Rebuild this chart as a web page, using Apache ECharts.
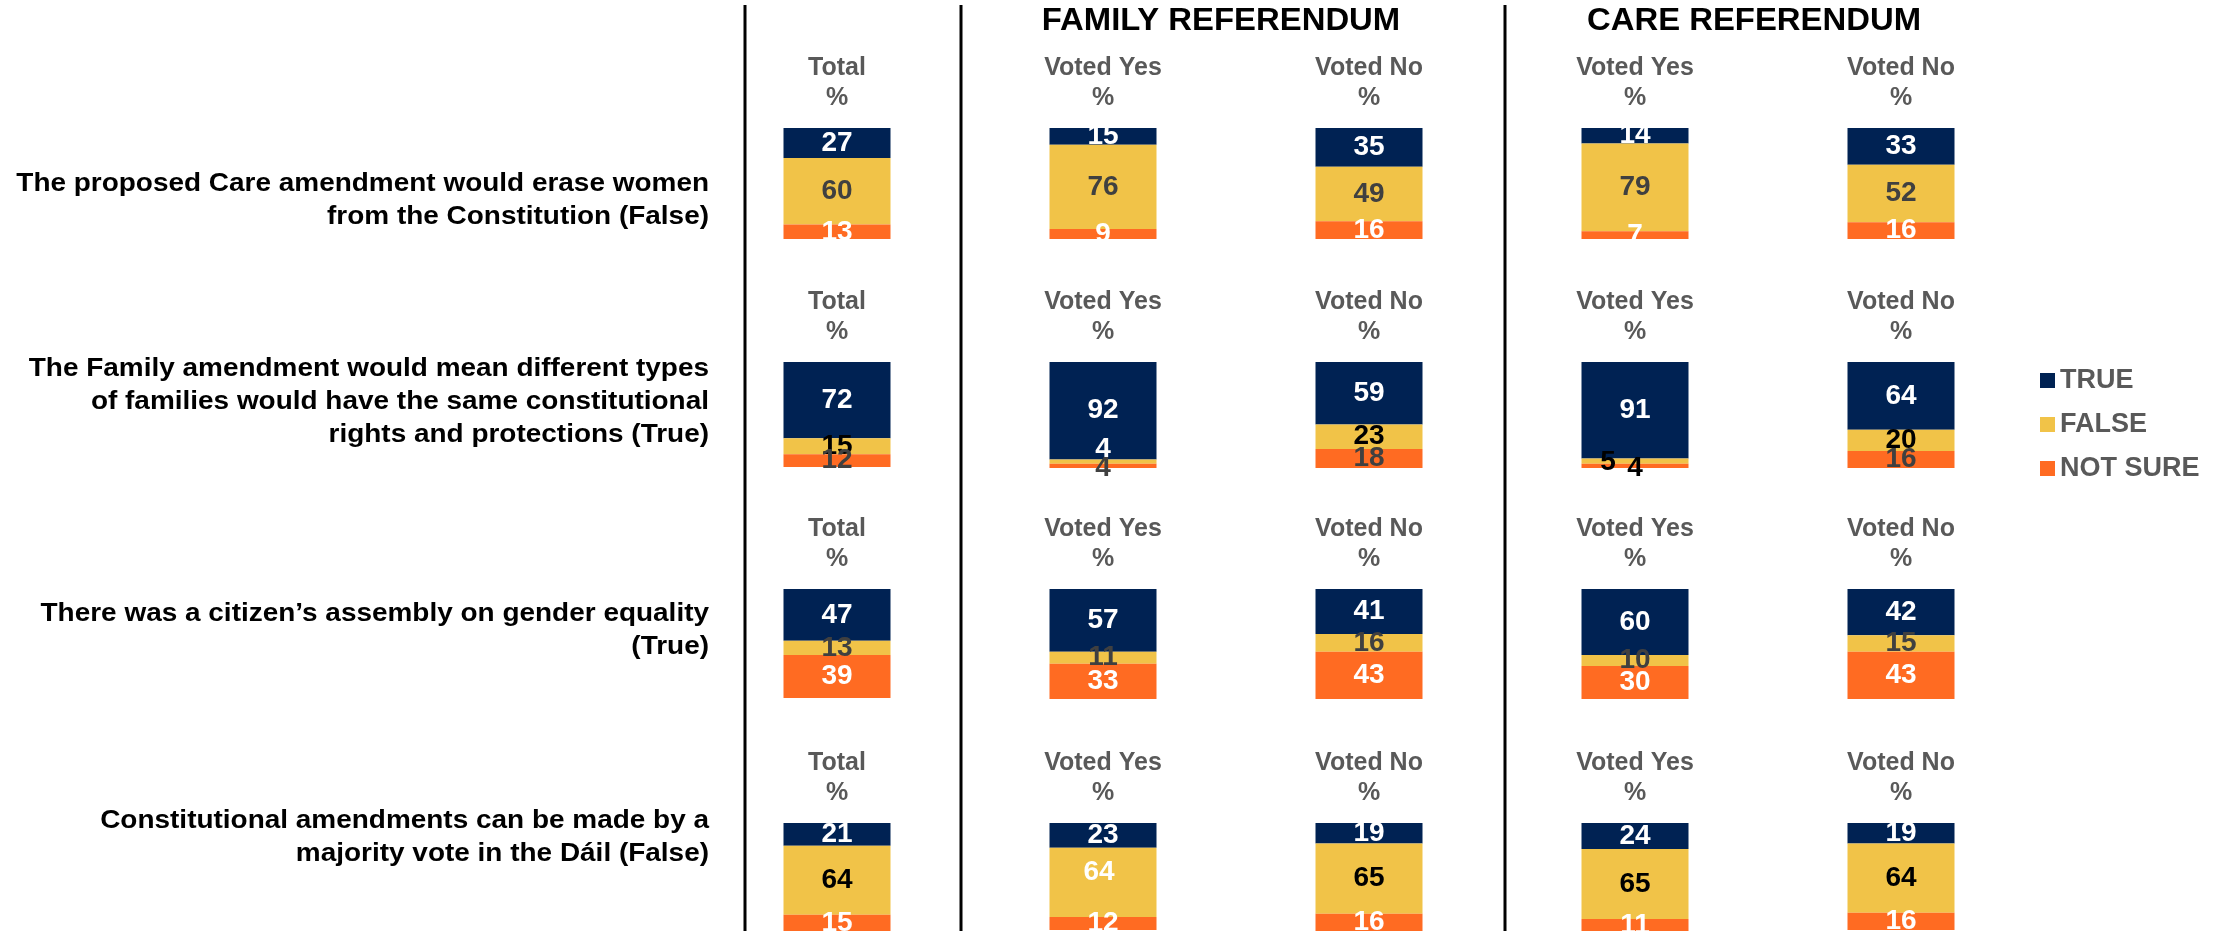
<!DOCTYPE html>
<html>
<head>
<meta charset="utf-8">
<title>Referendum knowledge</title>
<script src="https://cdn.jsdelivr.net/npm/echarts@6/dist/echarts.min.js"></script>
<style>
  html, body { margin: 0; padding: 0; background: #fff; }
  #chart { width: 2216px; height: 931px; }
</style>
</head>
<body>
<div id="chart"></div>
<script>
const statements = [
  'The proposed Care amendment would erase women\nfrom the Constitution (False)',
  'The Family amendment would mean different types\nof families would have the same constitutional\nrights and protections (True)',
  'There was a citizen\u2019s assembly on gender equality\n(True)',
  'Constitutional amendments can be made by a\nmajority vote in the D\u00e1il (False)'
];
const groupTitles = ['FAMILY REFERENDUM', 'CARE REFERENDUM'];
const columns = ['Total', 'Voted Yes', 'Voted No', 'Voted Yes', 'Voted No'];
const seriesNames = ['TRUE', 'FALSE', 'NOT SURE'];

// one row per statement, one value per column
const trueVals = [
  [27, 15, 35, 14, 33],
  [72, 92, 59, 91, 64],
  [47, 57, 41, 60, 42],
  [21, 23, 19, 24, 19]
];
const falseVals = [
  [60, 76, 49, 79, 52],
  [15, 4, 23, 5, 20],
  [13, 11, 16, 10, 15],
  [64, 64, 65, 65, 64]
];
const notSureVals = [
  [13, 9, 16, 7, 16],
  [12, 4, 18, 4, 16],
  [39, 33, 43, 30, 43],
  [15, 12, 16, 11, 16]
];

const COLORS = { TRUE: '#002253', FALSE: '#F1C348', 'NOT SURE': '#FF6B22' };
const FONT = "'Liberation Sans', Arial, sans-serif";
const DARK = '#404040';

// layout (pixels)
const ROW_TOP = [128, 362, 589, 823];
const ROW_H = [111, 106, 110, 108];
const TEXT_Y = [200, 402, 630, 837];
const GRID_LEFT = 704, GRID_W = 1330;

// label colour / nudges that differ from the defaults, key = series|row|col
const labelColor = {
  '1|1|0': '#000', '1|1|1': '#fff', '1|1|2': '#000', '1|1|3': '#000', '1|1|4': '#000',
  '2|1|0': DARK, '2|1|1': DARK, '2|1|2': DARK, '2|1|3': '#000', '2|1|4': DARK,
  '1|3|0': '#000', '1|3|1': '#fff', '1|3|2': '#000', '1|3|3': '#000', '1|3|4': '#000'
};
const labelOffset = {
  '1|1|1': [0, -12], '2|1|1': [0, 2],
  '1|1|3': [-27, 1], '2|1|3': [0, 2],
  '1|3|1': [-4, -10]
};
const defaultLabelColor = ['#fff', DARK, '#fff'];

function buildItems(values, s, r) {
  return values.map((v, c) => {
    const key = s + '|' + r + '|' + c;
    return {
      value: v,
      label: {
        color: labelColor[key] || defaultLabelColor[s],
        offset: labelOffset[key] || [0, 0]
      }
    };
  });
}

const chart = echarts.init(document.getElementById('chart'));

const grid = [], xAxis = [], yAxis = [], series = [];
const allVals = [trueVals, falseVals, notSureVals];

statements.forEach((_, r) => {
  grid.push({ left: GRID_LEFT, width: GRID_W, top: ROW_TOP[r], height: ROW_H[r] });
  xAxis.push({
    type: 'category', gridIndex: r, position: 'top',
    data: columns.map((c, i) => ({ value: 'c' + i })),
    axisLine: { show: false }, axisTick: { show: false }, splitLine: { show: false },
    axisLabel: {
      margin: 15, lineHeight: 30, fontSize: 25, fontWeight: 'bold', color: '#595959', fontFamily: FONT,
      formatter: (val, idx) => columns[idx] + '\n%'
    }
  });
  yAxis.push({ type: 'value', gridIndex: r, min: 0, max: 100, inverse: true, show: false });
  seriesNames.forEach((name, s) => {
    series.push({
      name: name, type: 'bar', stack: 'row' + r, xAxisIndex: r, yAxisIndex: r,
      barWidth: 107,
      itemStyle: { color: COLORS[name] },
      label: {
        show: true, position: 'inside', fontSize: 28, fontWeight: 'bold', fontFamily: FONT
      },
      emphasis: { disabled: true },
      data: buildItems(allVals[s][r], s, r)
    });
  });
});

const graphic = [];
[745, 961, 1505].forEach(x => {
  graphic.push({ type: 'line', shape: { x1: x, y1: 5, x2: x, y2: 931 }, style: { stroke: '#000', lineWidth: 3 } });
});
[1221, 1754].forEach((x, i) => {
  graphic.push({
    type: 'text', x: x, y: 21, scaleX: 1.06,
    style: { text: groupTitles[i], font: 'bold 31px ' + FONT, fill: '#000', textAlign: 'center', textVerticalAlign: 'middle' }
  });
});
// the source text is slightly wider than Arial, so stretch it a bit
statements.forEach((t, r) => {
  graphic.push({
    type: 'text', x: 709, y: TEXT_Y[r], scaleX: 1.075,
    style: { text: t, font: 'bold 26px ' + FONT, fill: '#000', textAlign: 'right', textVerticalAlign: 'middle', lineHeight: 33 }
  });
});

chart.setOption({
  animation: false,
  legend: {
    data: seriesNames, orient: 'vertical', left: 2035, top: 362,
    icon: 'rect', itemWidth: 15, itemHeight: 15, itemGap: 17,
    textStyle: { fontSize: 27, fontWeight: 'bold', color: '#595959', fontFamily: FONT }
  },
  grid: grid,
  xAxis: xAxis,
  yAxis: yAxis,
  series: series,
  graphic: graphic
});
</script>
</body>
</html>
